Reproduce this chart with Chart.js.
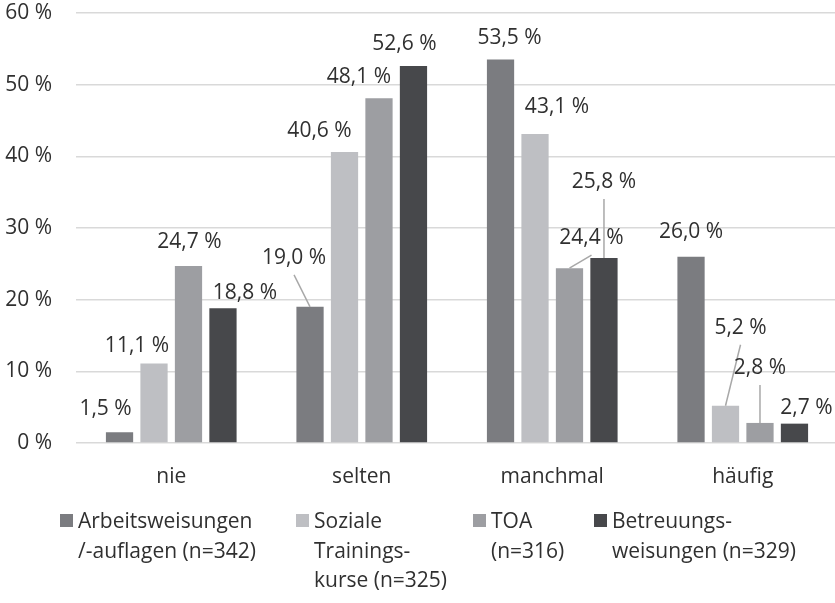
<!DOCTYPE html>
<html>
<head>
<meta charset="utf-8">
<script src="https://cdn.jsdelivr.net/npm/chart.js@4/dist/chart.umd.min.js"></script>
<style>
    html, body { margin: 0; padding: 0; overflow: hidden; background: #fff; }
    #wrap { position: relative; width: 838px; height: 603px; }
    #legend { position: absolute; left: 0; top: 0; width: 838px; height: 603px; pointer-events: none;
              font-family: "Open Sans", sans-serif; font-size: 21px; line-height: 29.5px; color: #303030; }
    .item { position: absolute; top: 506px; }
    .box { position: absolute; left: 0; top: 8px; width: 13px; height: 13px; }
    .txt { position: absolute; left: 18px; top: 0; white-space: nowrap; }
</style>
</head>
<body>
<div id="wrap">
    <canvas id="BarCanvas" width="838" height="603"></canvas>
    <div id="legend"></div>
</div>
<script>
var categories = ['nie', 'selten', 'manchmal', 'häufig'];
var arbeitsweisungen = [1.5, 19.0, 53.5, 26.0];
var sozialeTraining = [11.1, 40.6, 43.1, 5.2];
var toa = [24.7, 48.1, 24.4, 2.8];
var betreuung = [18.8, 52.6, 25.8, 2.7];
var yTicks = [0, 10, 20, 30, 40, 50, 60];

var legendLines = [
    ['Arbeitsweisungen', '/-auflagen (n=342)'],
    ['Soziale', 'Trainings-', 'kurse (n=325)'],
    ['TOA', '(n=316)'],
    ['Betreuungs-', 'weisungen (n=329)']
];
var colors = ['#7b7c80', '#bebfc3', '#9d9ea2', '#47484b'];

// label placement (dx, dy from bar top centre, leader line)
var labelOffsets = [
    [[-14, -24], [-16, -50, 1], [9, -23], [0, -26]],
    [[-17, -18], [-25, -22], [22, -28], [15, -79, 1]],
    [[1, -25], [-20, -22], [22, -31, 1], [0, -56, 1]],
    [[22, -16], [-9, -23], [0, -77, 1], [12, -17]]
];
var legendX = [60, 296, 473, 594];

function fmt(v) {
    return v.toFixed(1).replace('.', ',') + ' %';
}

var barLabels = {
    id: 'barLabels',
    afterDatasetsDraw: function (chart) {
        var ctx = chart.ctx;
        ctx.save();
        ctx.font = '21px "Open Sans"';
        ctx.fillStyle = '#303030';
        ctx.textAlign = 'center';
        ctx.textBaseline = 'middle';
        chart.data.datasets.forEach(function (ds, di) {
            chart.getDatasetMeta(di).data.forEach(function (bar, i) {
                var off = labelOffsets[di][i];
                var x = bar.x + off[0];
                var y = bar.y + off[1];
                if (off[2]) {
                    ctx.strokeStyle = '#a8a8a8';
                    ctx.lineWidth = 1.5;
                    ctx.beginPath();
                    ctx.moveTo(x, y + 18);
                    ctx.lineTo(bar.x, bar.y);
                    ctx.stroke();
                }
                ctx.fillText(fmt(ds.data[i]), x, y + 1);
            });
        });
        ctx.restore();
    }
};

window.onload = function () {
    var ctx = document.getElementById('BarCanvas').getContext('2d');
    var series = [arbeitsweisungen, sozialeTraining, toa, betreuung];

    window.Bars = new Chart(ctx, {
        type: 'bar',
        data: {
            labels: categories,
            datasets: series.map(function (d, i) {
                return {
                    label: legendLines[i].join(' '),
                    data: d,
                    backgroundColor: colors[i],
                    categoryPercentage: 0.724,
                    barPercentage: 0.79
                };
            })
        },
        options: {
            responsive: false,
            animation: false,
            layout: { padding: { top: 13, left: 0, right: 0, bottom: 0 } },
            plugins: {
                legend: { display: false },
                tooltip: { enabled: false }
            },
            scales: {
                x: {
                    grid: { display: false },
                    border: { display: false },
                    ticks: {
                        color: '#303030',
                        padding: 13,
                        font: { family: 'Open Sans', size: 21 }
                    },
                    afterFit: function (s) {
                        s.height = 160;
                        s.paddingLeft = 0;
                        s.paddingRight = 0;
                    }
                },
                y: {
                    min: 0,
                    max: 60,
                    afterBuildTicks: function (s) {
                        s.ticks = yTicks.map(function (v) { return { value: v }; });
                    },
                    grid: { color: '#d9d9d9', lineWidth: 1.5, drawTicks: false },
                    border: { display: false },
                    ticks: {
                        color: '#303030',
                        padding: 24,
                        font: { family: 'Open Sans', size: 21 },
                        callback: function (v) { return v + ' %'; }
                    },
                    afterFit: function (s) {
                        s.width = 76;
                        s.paddingTop = 0;
                        s.paddingBottom = 0;
                    }
                }
            }
        },
        plugins: [barLabels]
    });

    var legend = document.getElementById('legend');
    window.Bars.data.datasets.forEach(function (ds, i) {
        var item = document.createElement('div');
        item.className = 'item';
        item.style.left = legendX[i] + 'px';
        var box = document.createElement('span');
        box.className = 'box';
        box.style.background = ds.backgroundColor;
        var txt = document.createElement('span');
        txt.className = 'txt';
        txt.innerHTML = legendLines[i].join('<br>');
        item.appendChild(box);
        item.appendChild(txt);
        legend.appendChild(item);
    });
};
</script>
</body>
</html>
